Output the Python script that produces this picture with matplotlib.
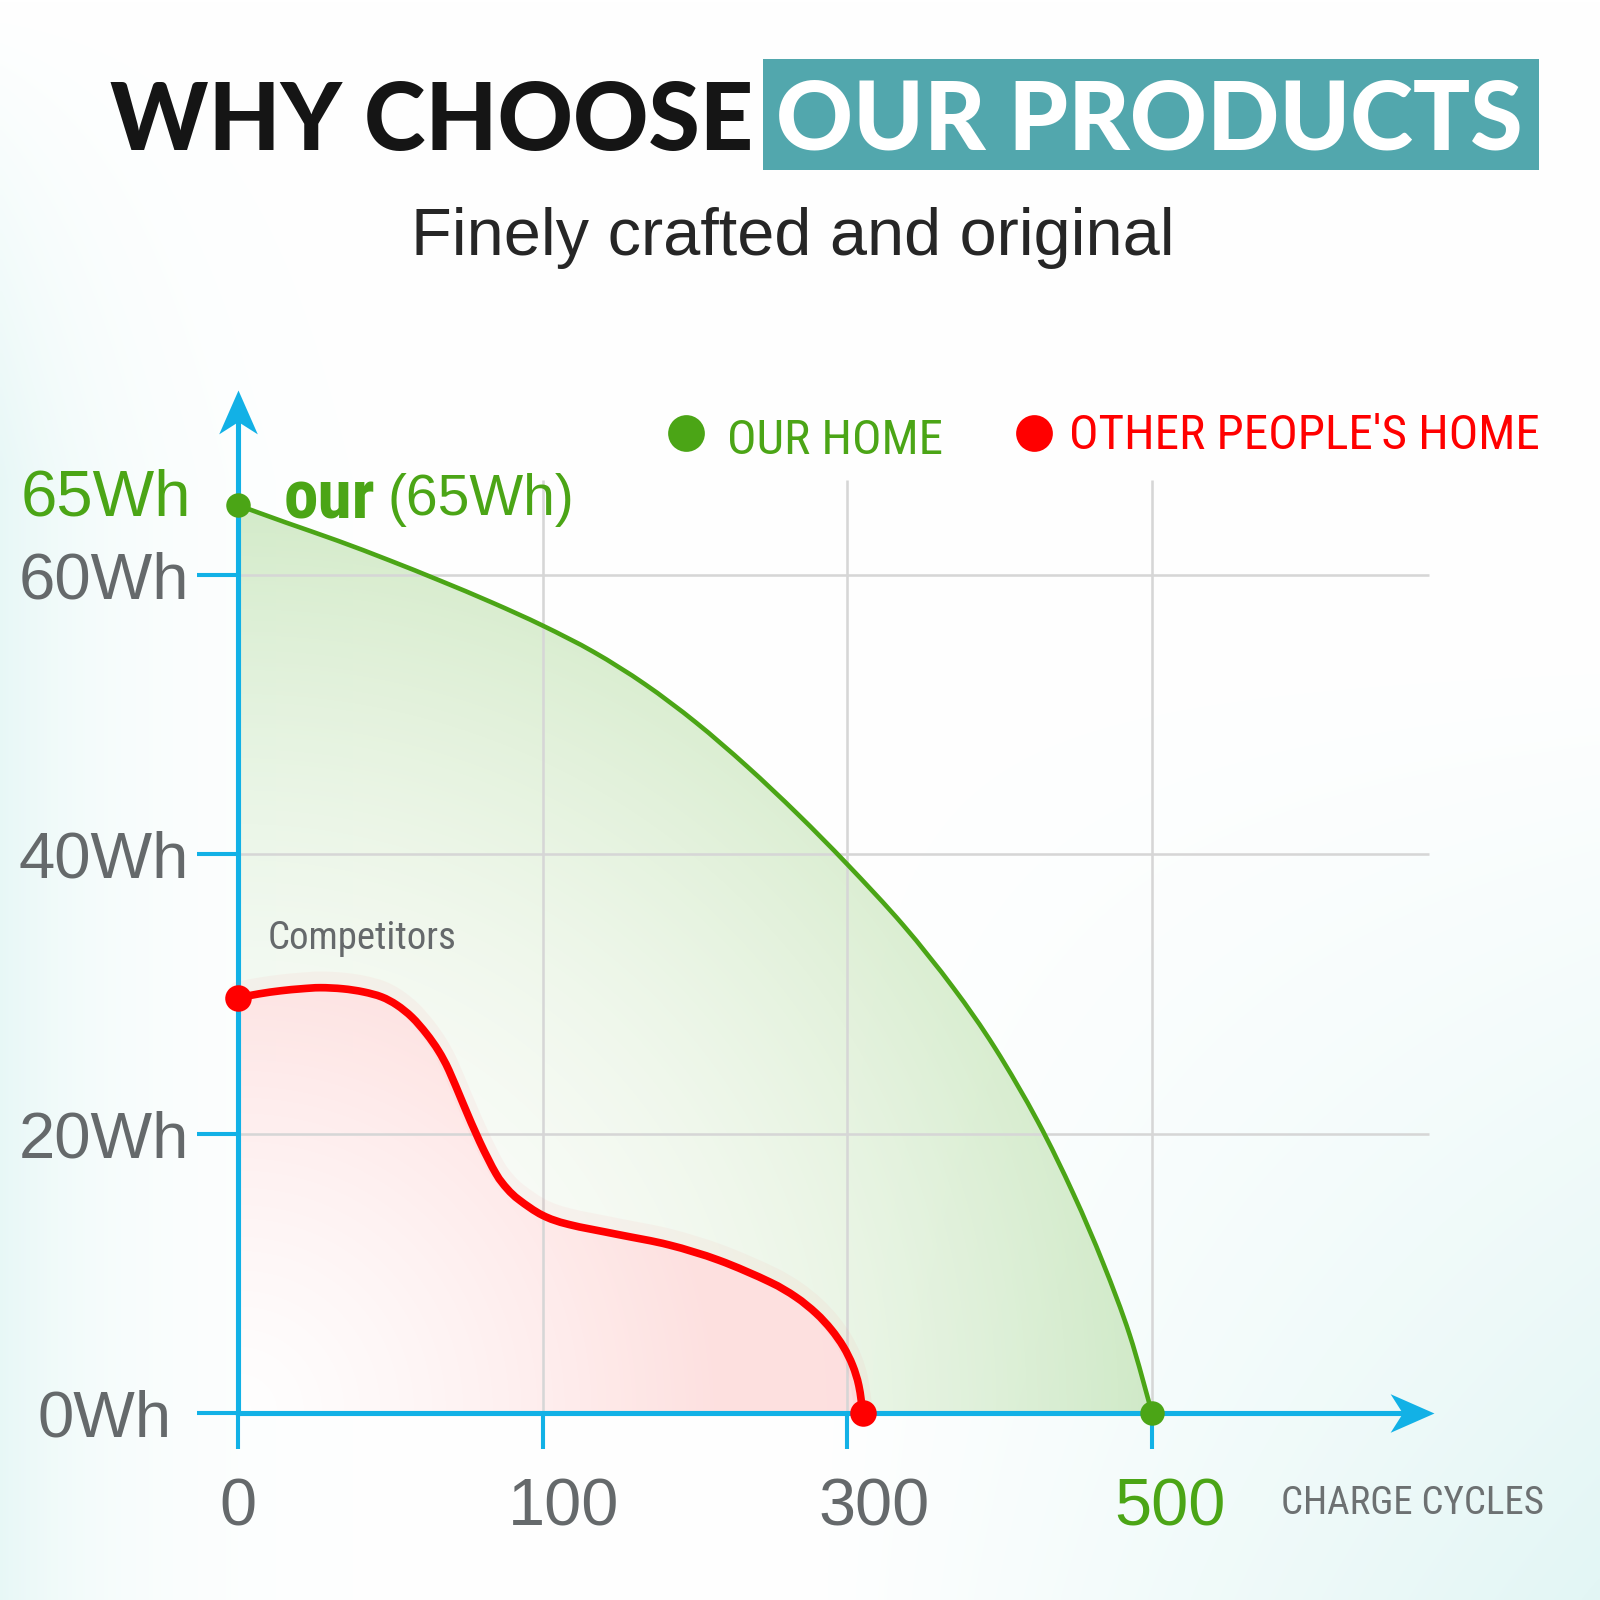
import numpy as np
import matplotlib

matplotlib.use("Agg")
import matplotlib.pyplot as plt
from matplotlib import font_manager
from matplotlib.lines import Line2D
from matplotlib.patches import PathPatch, Rectangle
from matplotlib.path import Path

# ---- data -------------------------------------------------------------------
x_ticks = [0, 100, 300, 500]
x_labels = ["0", "100", "300", "500"]
y_ticks = [0, 20, 40, 60]
y_labels = ["0Wh", "20Wh", "40Wh", "60Wh"]

# "OUR HOME" capacity (Wh) against charge cycles
ours_cycles = np.array([0, 15.7, 32.8, 49.6, 66.3, 83.4, 100, 133.7, 167.2, 200.7,
                        234.2, 267.6, 300, 336.6, 369.4, 396.9, 425.0, 448.4, 467.9,
                        485.3, 500])
ours_wh = np.array([65.0, 63.76, 62.45, 61.06, 59.6, 58.03, 56.38, 54.48, 52.18,
                    49.44, 46.3, 42.87, 39.29, 34.95, 30.48, 26.15, 20.89, 15.7,
                    10.74, 5.62, 0.0])

# "OTHER PEOPLE'S HOME" (competitors)
other_cycles = np.array([0, 7.0, 14.1, 20.8, 27.1, 34.5, 41.2, 47.2, 52.2, 57.2,
                         61.9, 65.9, 69.3, 74.0, 79.4, 84.7, 88.4, 92.4, 100, 117.4,
                         150.2, 183.0, 215.8, 248.7, 266.1, 279.5, 289.5, 297.5,
                         303.5, 307.6, 310.3])
other_wh = np.array([29.73, 30.02, 30.24, 30.38, 30.46, 30.38, 30.16, 29.8, 29.22,
                     28.34, 27.17, 25.93, 24.54, 22.13, 19.43, 17.16, 16.07, 15.26,
                     14.17, 13.51, 12.78, 12.05, 10.95, 9.42, 8.33, 7.16, 5.99, 4.75,
                     3.43, 1.97, 0.0])

# ---- style ------------------------------------------------------------------
GREEN = "#4ba516"
RED = "#ff0000"
BLUE = "#12b1e6"
GRAY = "#65696b"
TEAL = "#52a7ad"
GRID = "#d6d6d6"

names = {f.name for f in font_manager.fontManager.ttflist}


def pick(*cands):
    return next((c for c in cands if c in names), "DejaVu Sans")


SANS = pick("Liberation Sans", "Arial")
NARROW = pick("Liberation Sans Narrow", "Roboto Condensed", "Liberation Sans")
HEAVY = pick("Lato", "Inter", "Roboto")

plt.rcParams["font.family"] = [SANS, "DejaVu Sans"]

S = 1600 / 1568          # reference pixels -> output pixels


def px(v):
    return v * S


def pt(v):
    return v * S * 0.72


def fx(x):
    return x / 1568


def fy(y):
    return 1 - y / 1568


# piecewise axis: 0, 100, 300, 500 are evenly spaced
def fwd(c):
    c = np.asarray(c, float)
    return np.where(c < 100, c / 100, np.where(c < 300, 1 + (c - 100) / 200, 2 + (c - 300) / 200))


def inv(p):
    p = np.asarray(p, float)
    return np.where(p < 1, p * 100, np.where(p < 2, 100 + (p - 1) * 200, 300 + (p - 2) * 200))


X0, Y0 = 233, 1385        # origin in reference pixels
UX = (1129 - 233) / 3     # pixels per tick step
KY = 890 / 65             # pixels per Wh

fig = plt.figure(figsize=(16, 16), dpi=100)

# soft background tint
bg = fig.add_axes([0, 0, 1, 1])
bg.set_axis_off()
yy, xx = np.mgrid[0:1:400j, 0:1:400j]
a = 0.65 * np.exp(-xx / 0.07) * np.clip(yy / 0.3, 0, 1)
a += 0.8 * np.clip((xx - 0.5) / 0.5, 0, 1) * np.clip((yy - 0.4) / 0.6, 0, 1)
a = np.clip(a, 0, 1)
tint = np.array([0.86, 0.955, 0.95])
bg.imshow(1 - a[..., None] * (1 - tint), extent=(0, 1, 0, 1), origin="upper",
          aspect="auto", interpolation="bilinear")
bg.set_xlim(0, 1)
bg.set_ylim(0, 1)

ax = fig.add_axes([0, 0, 1, 1])
ax.patch.set_visible(False)
ax.set_xscale("function", functions=(fwd, inv))
ax.set_xlim(float(inv(-X0 / UX)), float(inv((1568 - X0) / UX)))
ax.set_ylim(-(1568 - Y0) / KY, Y0 / KY)


def smooth_path(xs, ys, closed=False, dy=0.0):
    """Catmull-Rom curve through the data points, built in axes space."""
    pts = ax.transAxes.inverted().transform(
        ax.transData.transform(np.column_stack([xs, np.asarray(ys) + dy])))
    P = np.vstack([pts[0], pts, pts[-1]])
    verts, codes = [pts[0]], [Path.MOVETO]
    for i in range(1, len(P) - 2):
        p0, p1, p2, p3 = P[i - 1], P[i], P[i + 1], P[i + 2]
        verts += [p1 + (p2 - p0) / 6, p2 - (p3 - p1) / 6, p2]
        codes += [Path.CURVE4] * 3
    if closed:
        base = ax.transAxes.inverted().transform(
            ax.transData.transform([[xs[-1], 0], [xs[0], 0]]))
        verts += [base[0], base[1], pts[0]]
        codes += [Path.LINETO, Path.LINETO, Path.CLOSEPOLY]
    return Path(np.array(verts), codes)


def gradient_fill(x, y, rgb, radius, amax, power, z):
    clip = smooth_path(x, y, closed=True)
    gy_, gx_ = np.mgrid[0:1:500j, 0:1:500j]
    r = np.hypot(gx_ - fx(X0), gy_ - fy(Y0)) / (radius / 1568)
    rgba = np.zeros((500, 500, 4))
    rgba[..., :3] = rgb
    rgba[..., 3] = amax * np.clip(r, 0, 1) ** power
    im = ax.imshow(rgba, extent=(0, 1, 0, 1), origin="lower", transform=ax.transAxes,
                   zorder=z, aspect="auto", interpolation="bilinear")
    im.set_clip_path(clip, ax.transAxes)


gradient_fill(ours_cycles, ours_wh, (0.70, 0.86, 0.62), 890, 0.55, 2.0, 1.0)
ax.add_patch(PathPatch(smooth_path(other_cycles, other_wh, closed=True),
                       transform=ax.transAxes, facecolor="white", alpha=0.9, lw=0,
                       zorder=1.4))
gradient_fill(other_cycles, other_wh, (1.0, 0.72, 0.72), 470, 0.42, 1.3, 1.5)

# grid
ax.hlines(y_ticks[1:], 0, float(inv((1400 - X0) / UX)), color=GRID, lw=pt(2.5), zorder=2)
ax.vlines(x_ticks[1:], 0, (Y0 - 470) / KY, color=GRID, lw=pt(2.5), zorder=2)

# axes with arrow heads
for s in ("top", "right"):
    ax.spines[s].set_visible(False)
x_tip = float(inv((1405 - X0) / UX))
y_tip = (Y0 - 382) / KY
for s in ("left", "bottom"):
    ax.spines[s].set_position(("data", 0))
    ax.spines[s].set_color(BLUE)
    ax.spines[s].set_linewidth(pt(5))
    ax.spines[s].set_zorder(3)
ax.spines["bottom"].set_bounds(0, float(inv((1405 - 22 - X0) / UX)))
ax.spines["left"].set_bounds(0, y_tip - 22 / KY)
ax.set_axisbelow(False)

head_r = Path([(0, 0), (-1, 0.44), (-0.72, 0), (-1, -0.44), (0, 0)],
              [Path.MOVETO, Path.LINETO, Path.LINETO, Path.LINETO, Path.CLOSEPOLY])
head_u = Path([(0, 0), (-0.44, -1), (0, -0.72), (0.44, -1), (0, 0)],
              [Path.MOVETO, Path.LINETO, Path.LINETO, Path.LINETO, Path.CLOSEPOLY])
ax.plot([x_tip], [0], marker=head_r, ms=pt(86), color=BLUE, mew=0, clip_on=False, zorder=3)
ax.plot([0], [y_tip], marker=head_u, ms=pt(86), color=BLUE, mew=0, clip_on=False, zorder=3)

ax.set_xticks(x_ticks)
ax.tick_params(axis="x", length=pt(35), width=pt(4), color=BLUE, labelbottom=False)
ax.set_yticks(y_ticks, y_labels)
ax.tick_params(axis="y", length=pt(40), width=pt(4), color=BLUE, pad=pt(91),
               labelsize=47, labelcolor=GRAY)
for lab in ax.get_yticklabels():
    lab.set_horizontalalignment("center")
ax.xaxis.set_minor_locator(matplotlib.ticker.NullLocator())

x_label_colors = [GRAY, GRAY, GRAY, GREEN]
x_label_shift = [0, 21, 26, 18]
for c, lab, col, dx in zip(x_ticks, x_labels, x_label_colors, x_label_shift):
    ax.annotate(lab, xy=(c, 0), xytext=(px(dx), -px(1495 - Y0)), textcoords="offset pixels",
                ha="center", va="baseline", fontsize=48, color=col, annotation_clip=False)

# curves
ax.add_patch(PathPatch(smooth_path(other_cycles, other_wh, dy=0.5), transform=ax.transAxes,
                       fill=False, edgecolor="#ff7070", lw=pt(18), alpha=0.06,
                       capstyle="round", zorder=3.5))
ax.add_patch(PathPatch(smooth_path(ours_cycles, ours_wh), transform=ax.transAxes,
                       fill=False, edgecolor=GREEN, lw=pt(4.5), capstyle="round",
                       joinstyle="round", zorder=4))
ax.add_patch(PathPatch(smooth_path(other_cycles, other_wh), transform=ax.transAxes,
                       fill=False, edgecolor=RED, lw=pt(7.5), capstyle="round",
                       joinstyle="round", zorder=4.2))
ax.plot(ours_cycles[[0, -1]], ours_wh[[0, -1]], "o", ms=pt(24), color=GREEN, mew=0,
        clip_on=False, zorder=5)
ax.plot(other_cycles[[0, -1]], other_wh[[0, -1]], "o", ms=pt(26), color=RED, mew=0,
        clip_on=False, zorder=5)

# annotations next to the curves
top = ours_wh[0]
ax.annotate(f"{top:.0f}Wh", xy=(0, top), xytext=(px(104 - X0), -px(505 - 495)),
            textcoords="offset pixels", ha="center", va="baseline", fontsize=47, color=GREEN)
ax.annotate("our", xy=(0, top), xytext=(px(278 - X0), -px(508 - 495)),
            textcoords="offset pixels", ha="left", va="baseline", fontsize=50,
            fontweight="bold", family=NARROW, color=GREEN)
ax.annotate(f"({top:.0f}Wh)", xy=(0, top), xytext=(px(380 - X0), -px(505 - 495)),
            textcoords="offset pixels", ha="left", va="baseline", fontsize=41, color=GREEN)
ax.annotate("Competitors", xy=(0, other_wh[0]), xytext=(px(262 - X0), px(978 - 930)),
            textcoords="offset pixels", ha="left", va="baseline", fontsize=28,
            family=NARROW, color=GRAY)

fig.text(fx(1255), fy(1484), "CHARGE CYCLES", ha="left", va="baseline", fontsize=28,
         family=NARROW, color="#6d7172")

# legend
for cx, tx, base, col, txt in [(672, 712, 445, GREEN, "OUR HOME"),
                               (1013, 1048, 440, RED, "OTHER PEOPLE'S HOME")]:
    fig.add_artist(Line2D([fx(cx)], [fy(424)], marker="o", ms=pt(36), color=col, mew=0,
                          transform=fig.transFigure))
    fig.text(fx(tx), fy(base), txt, ha="left", va="baseline", fontsize=35.5,
             family=NARROW, color=col)

# title
fig.add_artist(Rectangle((fx(748), fy(167)), fx(1508 - 748), (167 - 58) / 1568,
                         transform=fig.transFigure, color=TEAL, lw=0))
t1 = fig.text(fx(738), fy(147), "WHY CHOOSE", ha="right", va="baseline", fontsize=70,
              family=HEAVY, fontweight="black", color="#151515")
t2 = fig.text(fx(760), fy(147), "OUR PRODUCTS", ha="left", va="baseline", fontsize=70,
              family=HEAVY, fontweight="black", color="white")
fig.text(fx(777), fy(250), "Finely crafted and original", ha="center", va="baseline",
         fontsize=48, color="#262626")

renderer = fig.canvas.get_renderer()
for t, width in ((t1, 630), (t2, 732)):
    w = t.get_window_extent(renderer).width
    t.set_fontsize(t.get_fontsize() * px(width) / w)

fig.savefig("out.png", dpi=100)
